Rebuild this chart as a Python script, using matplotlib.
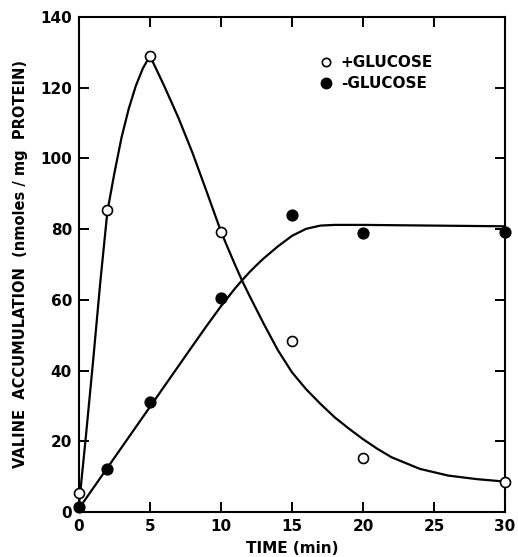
import matplotlib
matplotlib.use("Agg")
import matplotlib.pyplot as plt

# measured points
time_min = [0, 2, 5, 10, 15, 20, 30]
plus_glucose = [5.3, 85.4, 129, 79.3, 48.4, 15.2, 8.6]
minus_glucose = [1.5, 12.3, 31.2, 60.4, 84, 78.8, 79.1]

# hand-drawn curves
plus_curve_x = [0, 0.5, 1, 1.5, 2, 2.5, 3, 3.5, 4, 4.5, 5, 6, 7, 8, 9, 10,
                10.5, 11, 11.5, 12, 13, 14, 15, 16, 17, 18, 19, 20, 21, 22,
                24, 26, 28, 30]
plus_curve_y = [2, 22, 43, 65, 85, 96, 106, 114, 120.5, 125.5, 129, 120.5,
                111.5, 101.5, 90.5, 79.3, 74.5, 69.8, 65.3, 61.2, 53.3, 45.8,
                39.5, 34.7, 30.6, 26.8, 23.6, 20.6, 17.9, 15.5, 12.2, 10.3,
                9.3, 8.6]
minus_curve_x = [0, 2, 4, 6, 8, 9, 10, 11, 11.5, 12, 12.5, 13, 14, 15, 16,
                 17, 18, 20, 30]
minus_curve_y = [1, 12.5, 24, 35.5, 47, 52.7, 58.2, 63.3, 65.6, 67.8, 69.8,
                 71.7, 75.1, 78.1, 80.1, 81, 81.2, 81.2, 80.8]

x_ticks = [0, 5, 10, 15, 20, 25, 30]
y_ticks = [0, 20, 40, 60, 80, 100, 120, 140]

plt.rcParams["font.family"] = ["DejaVu Sans"]
plt.rcParams["font.weight"] = "bold"

fig = plt.figure(figsize=(5.18, 5.57), dpi=100)
ax = fig.add_axes([0.1525, 0.0808, 0.8224, 0.8887])

ax.plot(plus_curve_x, plus_curve_y, color="black", lw=1.6,
        solid_joinstyle="round", zorder=2, clip_on=False)
ax.plot(minus_curve_x, minus_curve_y, color="black", lw=1.6,
        solid_joinstyle="round", zorder=2, clip_on=False)

ax.plot(time_min, plus_glucose, "o", ms=7.2, mfc="white", mec="black",
        mew=1.2, zorder=3, clip_on=False, label="+GLUCOSE")
ax.plot(time_min, minus_glucose, "o", ms=7.8, mfc="black", mec="black",
        zorder=3, clip_on=False, label="-GLUCOSE")

ax.set_xlim(0, 30)
ax.set_ylim(0, 140)
ax.set_xticks(x_ticks)
ax.set_yticks(y_ticks)
ax.set_xticklabels([str(t) for t in x_ticks], fontsize=11, fontweight="bold")
ax.set_yticklabels([str(t) for t in y_ticks], fontsize=11, fontweight="bold")
ax.tick_params(direction="in", length=7, width=1.4, top=True, right=True,
               pad=5)

for s in ax.spines.values():
    s.set_linewidth(1.5)

ax.set_xlabel("TIME (min)", fontsize=11, fontweight="bold", labelpad=5)
ax.set_ylabel("VALINE  ACCUMULATION  (nmoles / mg  PROTEIN)", fontsize=10.5,
              fontweight="bold", labelpad=9)

leg = ax.legend(loc="upper left", bbox_to_anchor=(0.55, 0.935), frameon=False,
                fontsize=11, handlelength=0.8, handletextpad=0.6,
                labelspacing=0.4, borderaxespad=0)
leg.legend_handles[0].set_markersize(6)
leg.legend_handles[1].set_markersize(7.5)

fig.savefig("out.png", dpi=100)
